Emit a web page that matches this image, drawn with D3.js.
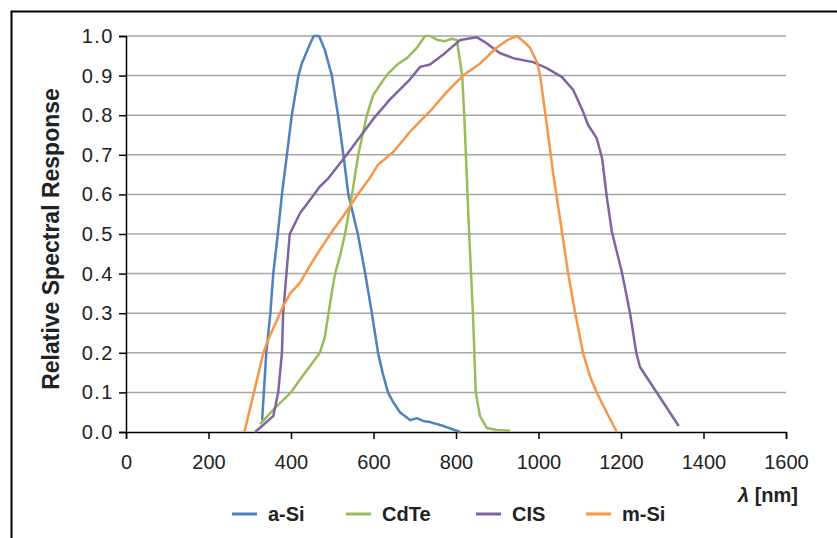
<!DOCTYPE html>
<html>
<head>
<meta charset="utf-8">
<script src="https://cdn.jsdelivr.net/npm/d3@7"></script>
<style>
  body { margin: 0; background: #fff; }
  svg { display: block; font-family: "Liberation Sans", Arial, sans-serif; }
</style>
</head>
<body>
<div id="chart"></div>
<script>
// wavelength [nm], relative response
const aSi = [[330,0.03],[340,0.2],[350,0.3],[357,0.4],[368,0.5],[378,0.6],[390,0.7],[402,0.8],[418,0.9],[426,0.93],
  [440,0.965],[455,1.0],[468,1.0],[482,0.965],[499,0.9],[514,0.8],[527,0.7],[539,0.6],[562,0.5],[580,0.4],[596,0.3],
  [611,0.2],[622,0.15],[635,0.1],[648,0.075],[664,0.05],[689,0.03],[705,0.035],[720,0.028],[737,0.025],[770,0.015],[810,0.0]];
const cdTe = [[325,0.02],[357,0.056],[380,0.08],[400,0.1],[420,0.13],[445,0.165],[470,0.2],[482,0.24],[491,0.3],[500,0.36],
  [507,0.4],[520,0.45],[531,0.5],[548,0.6],[563,0.7],[584,0.8],[599,0.85],[618,0.88],[635,0.905],[660,0.93],[681,0.944],
  [705,0.97],[725,1.0],[737,1.0],[755,0.99],[773,0.987],[790,0.993],[802,0.99],[815,0.9],[820,0.8],[832,0.5],[841,0.3],
  [848,0.1],[858,0.04],[875,0.01],[900,0.005],[931,0.003]];
const cis = [[313,0.0],[357,0.04],[369,0.1],[378,0.2],[381,0.3],[389,0.4],[397,0.5],[422,0.553],[446,0.586],[470,0.62],
  [490,0.64],[535,0.7],[599,0.79],[640,0.84],[688,0.89],[713,0.922],[737,0.928],[769,0.953],[810,0.99],[850,0.997],
  [874,0.982],[906,0.957],[939,0.944],[987,0.934],[1020,0.919],[1057,0.896],[1084,0.864],[1108,0.809],[1120,0.776],
  [1141,0.742],[1154,0.692],[1166,0.59],[1178,0.505],[1202,0.404],[1222,0.3],[1237,0.2],[1246,0.164],[1340,0.015]];
const mSi = [[287,0],[309,0.095],[333,0.2],[345,0.234],[365,0.28],[382,0.32],[398,0.35],[422,0.377],[446,0.42],[470,0.46],
  [502,0.51],[530,0.55],[562,0.6],[590,0.64],[611,0.675],[648,0.707],[690,0.76],[737,0.81],[778,0.859],[817,0.9],
  [858,0.93],[899,0.971],[925,0.99],[948,1.0],[965,0.985],[979,0.971],[996,0.935],[1004,0.9],[1020,0.776],[1036,0.65],
  [1057,0.505],[1072,0.4],[1089,0.3],[1108,0.2],[1125,0.14],[1141,0.1],[1165,0.05],[1190,0]];

const seriesNames = ["a-Si", "CdTe", "CIS", "m-Si"];
const seriesData = [aSi, cdTe, cis, mSi];
const colors = ["#4f81bd", "#9bbb59", "#8064a2", "#f79646"];
const xTicks = [0, 200, 400, 600, 800, 1000, 1200, 1400, 1600];
const yTicks = [0, 0.1, 0.2, 0.3, 0.4, 0.5, 0.6, 0.7, 0.8, 0.9, 1.0];

const width = 837, height = 538;
const margin = {top: 36, right: 51, bottom: 106, left: 126};

const svg = d3.select("#chart").append("svg")
    .attr("width", width)
    .attr("height", height);

// outer frame (only top and left edges show)
svg.append("rect")
    .attr("x", 11.5).attr("y", 11.5)
    .attr("width", 900).attr("height", 900)
    .attr("fill", "none")
    .attr("stroke", "#000")
    .attr("stroke-width", 2);

const x = d3.scaleLinear([0, 1600], [margin.left, width - margin.right]);
const y = d3.scaleLinear([0, 1], [height - margin.bottom, margin.top]);

// gridlines
svg.append("g")
  .selectAll("line")
  .data(yTicks.slice(1))
  .join("line")
    .attr("x1", x(0)).attr("x2", x(1600))
    .attr("y1", d => y(d)).attr("y2", d => y(d))
    .attr("stroke", "#a6a6a6")
    .attr("stroke-width", 1.5);

// y axis
svg.append("g")
    .attr("transform", `translate(${x(0)},0)`)
    .call(d3.axisLeft(y).tickValues(yTicks).tickFormat(d3.format(".1f")).tickSize(7).tickPadding(5))
    .call(g => g.selectAll("path, line").attr("stroke", "#000").attr("stroke-width", 1.5))
    .call(g => g.selectAll("text").attr("font-size", 20).attr("letter-spacing", 1.5)
        .attr("fill", "#222").attr("font-family", null));

// x axis
svg.append("g")
    .attr("transform", `translate(0,${y(0)})`)
    .call(d3.axisBottom(x).tickValues(xTicks).tickFormat(d3.format("d")).tickSize(7).tickPadding(16))
    .call(g => g.selectAll("path, line").attr("stroke", "#000").attr("stroke-width", 1.5))
    .call(g => g.selectAll("text").attr("font-size", 20).attr("fill", "#222").attr("font-family", null));

// lines
const line = d3.line().x(d => x(d[0])).y(d => y(d[1]));
svg.append("g")
  .selectAll("path")
  .data(seriesData)
  .join("path")
    .attr("d", line)
    .attr("fill", "none")
    .attr("stroke", (d, i) => colors[i])
    .attr("stroke-width", 2.5)
    .attr("stroke-linejoin", "round");

// axis titles
svg.append("text")
    .attr("transform", `translate(59,${(y(0) + y(1)) / 2 + 5}) rotate(-90)`)
    .attr("text-anchor", "middle")
    .attr("font-size", 23)
    .attr("font-weight", "bold")
    .attr("fill", "#222")
    .text("Relative Spectral Response");

const xTitle = svg.append("text")
    .attr("x", 798).attr("y", 502)
    .attr("text-anchor", "end")
    .attr("font-size", 20)
    .attr("font-weight", "bold")
    .attr("fill", "#222");
xTitle.append("tspan").attr("font-style", "italic").text("λ");
xTitle.append("tspan").text(" [nm]");

// legend
const legendX = [232, 346, 476, 586];
const legend = svg.append("g")
  .selectAll("g")
  .data(seriesNames)
  .join("g")
    .attr("transform", (d, i) => `translate(${legendX[i]},514)`);
legend.append("line")
    .attr("x1", 0).attr("x2", 25)
    .attr("stroke", (d, i) => colors[i])
    .attr("stroke-width", 3);
legend.append("text")
    .attr("x", 36).attr("y", 7)
    .attr("font-size", 20)
    .attr("font-weight", "bold")
    .attr("fill", "#222")
    .text(d => d);
</script>
</body>
</html>
